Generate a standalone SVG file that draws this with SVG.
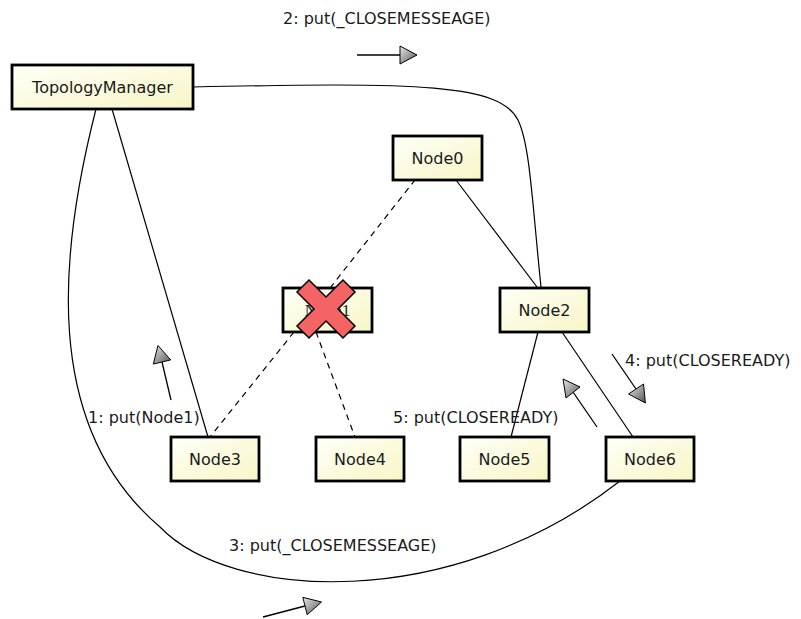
<svg xmlns="http://www.w3.org/2000/svg" width="801" height="619" viewBox="0 0 801 619">
<defs>
<linearGradient id="nodeFill" x1="0" y1="0" x2="1" y2="1">
<stop offset="0" stop-color="#fffff8"/>
<stop offset="1" stop-color="#f8f6c6"/>
</linearGradient>
<linearGradient id="headFill" x1="0" y1="0" x2="1" y2="1">
<stop offset="0" stop-color="#e8e8e8"/>
<stop offset="1" stop-color="#555"/>
</linearGradient>
<style>
.box{fill:url(#nodeFill);stroke:#000;stroke-width:2.8}
.lbl{font-family:"DejaVu Sans","Liberation Sans",sans-serif;font-size:16px;fill:#1a1a1a;text-anchor:middle}
.msg{font-family:"DejaVu Sans","Liberation Sans",sans-serif;font-size:16px;fill:#1a1a1a}
.edge{fill:none;stroke:#000;stroke-width:1.2}
.dash{fill:none;stroke:#000;stroke-width:1.2;stroke-dasharray:6 5}
.head{fill:url(#headFill);stroke:#000;stroke-width:1}
.aline{stroke:#000;stroke-width:1.3;fill:none}
</style>
</defs>
<rect width="801" height="619" fill="#fff"/>
<g id="connectors">
<path class="edge" d="M193,87 C420,82 500,84 518,120 C530,145 532,200 541,287"/>
<path class="edge" d="M112,109 L208,437"/>
<path class="edge" d="M96,109 C60,250 40,425 160,527 C230,600 450,614 620,481"/>
<path class="edge" d="M456,180 L537,287"/>
<path class="edge" d="M538,332 L511,437"/>
<path class="edge" d="M562,332 L633,437"/>
<path class="dash" d="M330,288 L415,180"/>
<path class="dash" d="M294,332 L210,437"/>
<path class="dash" d="M316,332 L355,437"/>
</g>
<g id="messages">
<text class="msg" x="283" y="24">2: put(_CLOSEMESSEAGE)</text>
<line class="aline" x1="357" y1="55" x2="400" y2="55"/>
<polygon class="head" points="400,46 417,55 400,64"/>
<text class="msg" x="88" y="423">1: put(Node1)</text>
<line class="aline" x1="171" y1="400" x2="162" y2="362"/>
<polygon class="head" points="170.7,359.9 158,345.5 153.3,364.1"/>
<text class="msg" x="229" y="551">3: put(_CLOSEMESSEAGE)</text>
<line class="aline" x1="263" y1="617" x2="305" y2="606"/>
<polygon class="head" points="307.2,614.7 321.5,602 302.8,597.3"/>
<text class="msg" x="625" y="366">4: put(CLOSEREADY)</text>
<line class="aline" x1="612" y1="354" x2="636" y2="389"/>
<polygon class="head" points="643.5,384 645.4,403 628.5,394"/>
<text class="msg" x="393" y="423">5: put(CLOSEREADY)</text>
<line class="aline" x1="597" y1="427" x2="573" y2="392"/>
<polygon class="head" points="580,387 563,379 566,398"/>
</g>
<g id="TopologyManager">
<rect class="box" x="12" y="65" width="181" height="44"/>
<text class="lbl" x="102.5" y="93">TopologyManager</text>
</g>
<g id="Node0">
<rect class="box" x="393" y="136" width="89" height="44"/>
<text class="lbl" x="437.5" y="164">Node0</text>
</g>
<g id="Node1">
<rect class="box" x="283" y="288" width="89" height="44"/>
<text class="lbl" x="327.5" y="316" style="font-family:'Liberation Serif',serif;font-size:17px">Node1</text>
<polygon fill="#f46464" stroke="#000" stroke-width="1.5" points="297,292 309,280 326,297 343,280 355,292 338,309 355,326 343,338 326,321 309,338 297,326 314,309"/>
</g>
<g id="Node2">
<rect class="box" x="500" y="288" width="89" height="44"/>
<text class="lbl" x="544.5" y="316">Node2</text>
</g>
<g id="Node3">
<rect class="box" x="171" y="437" width="88" height="44"/>
<text class="lbl" x="215" y="465">Node3</text>
</g>
<g id="Node4">
<rect class="box" x="316" y="437" width="88" height="44"/>
<text class="lbl" x="360" y="465">Node4</text>
</g>
<g id="Node5">
<rect class="box" x="460" y="437" width="89" height="44"/>
<text class="lbl" x="504.5" y="465">Node5</text>
</g>
<g id="Node6">
<rect class="box" x="606" y="437" width="88" height="44"/>
<text class="lbl" x="650" y="465">Node6</text>
</g>
</svg>
